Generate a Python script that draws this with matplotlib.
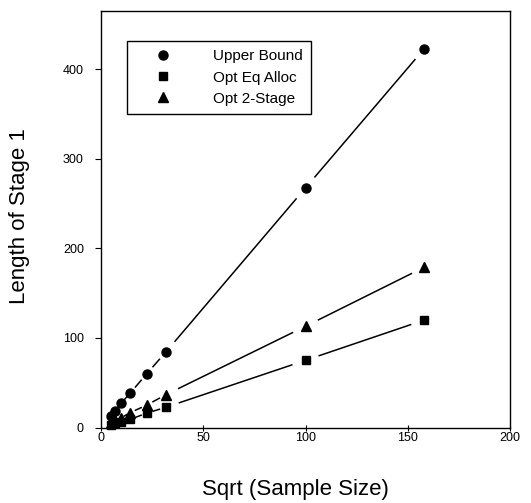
import matplotlib
matplotlib.use("Agg")
import matplotlib.pyplot as plt
from matplotlib.lines import Line2D
import numpy as np

plt.rcParams['font.family'] = ['Liberation Sans', 'DejaVu Sans']

sqrt_n = [5.0, 7.07, 10.0, 14.14, 22.36, 31.62, 100.0, 158.11]
upper_bound = [12.5, 18.5, 27.5, 38.0, 60.0, 84.0, 267.5, 423.0]
opt_eq_alloc = [3.0, 4.5, 6.5, 9.0, 16.0, 22.5, 75.0, 120.0]
opt_2_stage = [5.5, 8.0, 11.0, 16.5, 25.0, 36.5, 113.0, 179.0]

series = [
    ("Upper Bound", upper_bound, "o", 6.5),
    ("Opt Eq Alloc", opt_eq_alloc, "s", 6.3),
    ("Opt 2-Stage", opt_2_stage, "^", 7.0),
]

W, H = 531, 503
fig = plt.figure(figsize=(W / 100, H / 100), dpi=100)
ax = fig.add_axes([101 / W, 1 - 427.5 / H, 409 / W, 416.5 / H])
ax.set_xlim(0, 200)
ax.set_ylim(0, 465)

# lines with gaps around markers (computed in display space)
fig.canvas.draw()
for name, vals, mk, ms in series:
    pts = ax.transData.transform(np.column_stack([sqrt_n, vals]))
    for (x0, y0), (x1, y1) in zip(pts[:-1], pts[1:]):
        d = np.hypot(x1 - x0, y1 - y0)
        gap = min(14.5, 0.33 * d)
        if d <= 2 * gap:
            continue
        ux, uy = (x1 - x0) / d, (y1 - y0) / d
        seg = Line2D([x0 + ux * gap, x1 - ux * gap], [y0 + uy * gap, y1 - uy * gap],
                     transform=None, color='black', lw=1.1)
        fig.add_artist(seg)

for name, vals, mk, ms in series:
    ax.plot(sqrt_n, vals, linestyle='none', marker=mk, ms=ms, color='black',
            label=name, clip_on=False, zorder=5)

ax.set_xticks([0, 50, 100, 150, 200])
ax.set_yticks([0, 100, 200, 300, 400])
ax.tick_params(axis='x', direction='inout', length=5, width=0.8, pad=0.5, labelsize=9)
ax.tick_params(axis='y', direction='out', length=4.3, width=0.8, pad=8, labelsize=9)
for s in ax.spines.values():
    s.set_linewidth(1.0)

ax.set_xlabel("Sqrt (Sample Size)", fontsize=16)
ax.xaxis.set_label_coords((295.5 - 101) / 409, (427.5 - 490) / 416.5)
ax.xaxis.label.set_va('center')
ax.set_ylabel("Length of Stage 1", fontsize=16)
ax.yaxis.set_label_coords((20 - 101) / 409, (427.5 - 216) / 416.5)
ax.yaxis.label.set_va('center')

leg = ax.legend(loc='upper left', bbox_to_anchor=((127 - 101) / 409, (427.5 - 41) / 416.5),
                borderaxespad=0, fontsize=11, handlelength=3.6, handletextpad=1.5,
                borderpad=0.55, labelspacing=0.47, frameon=True, fancybox=False,
                edgecolor='black', framealpha=1)
leg.get_frame().set_linewidth(1.0)

fig.savefig("out.png", dpi=100)
